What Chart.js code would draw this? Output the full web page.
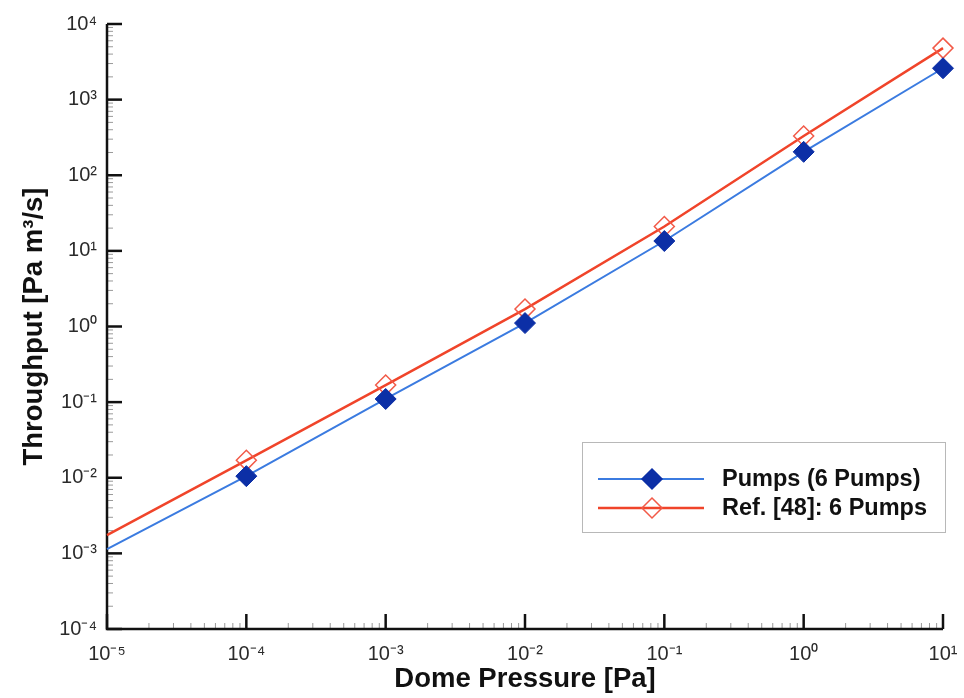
<!DOCTYPE html>
<html>
<head>
<meta charset="utf-8">
<script src="https://cdn.jsdelivr.net/npm/chart.js@4.4.1/dist/chart.umd.min.js"></script>
<style>
  html, body { margin: 0; padding: 0; background: #ffffff; }
  #wrap { position: relative; width: 964px; height: 698px; }
</style>
</head>
<body>
<div id="wrap"><canvas id="c" width="964" height="698"></canvas></div>
<script>
// ---- data ----
const domePressure = [1e-5, 1e-4, 1e-3, 1e-2, 1e-1, 1, 10];
const pumpsThroughput = [1.14e-3, 0.0105, 0.11, 1.11, 13.5, 204, 2600];
const ref48Throughput = [1.74e-3, 0.017, 0.168, 1.7, 21, 330, 4800];
const markerShown = [false, true, true, true, true, true, true];
const seriesNames = ['Pumps (6 Pumps)', 'Ref. [48]: 6 Pumps'];
const xTitle = 'Dome Pressure [Pa]';
const yTitle = 'Throughput [Pa m\u00B3/s]';

const SUP = {'-':'\u207B','0':'\u2070','1':'\u00B9','2':'\u00B2','3':'\u00B3','4':'\u2074','5':'\u2075','6':'\u2076','7':'\u2077','8':'\u2078','9':'\u2079'};
function powLabel(v) {
  const e = Math.log10(v);
  const r = Math.round(e);
  if (Math.abs(e - r) > 1e-6) return '';
  return '10' + String(r).split('').map(ch => SUP[ch]).join('');
}

const BLUE_LINE = '#3b7be0';
const BLUE_MARK = '#0c2fa6';
const RED_LINE = '#f0442a';
const RED_MARK = '#f25a48';

function pts(ys) { return domePressure.map((x, i) => ({x: x, y: ys[i]})); }

const axesPlugin = {
  id: 'inwardAxes',
  beforeDatasetsDraw(chart) {
    const {ctx, chartArea: a, scales: {x, y}} = chart;
    ctx.save();
    for (let e = -5; e <= 1; e++) {
      for (let k = 1; k <= 9; k++) {
        const v = k * Math.pow(10, e);
        if (v > 10 * 1.0001) break;
        const px = x.getPixelForValue(v);
        ctx.beginPath();
        if (k === 1) { ctx.strokeStyle = '#111'; ctx.lineWidth = 2.5; ctx.moveTo(px, a.bottom); ctx.lineTo(px, a.bottom - 15); }
        else { ctx.strokeStyle = '#9a9a9a'; ctx.lineWidth = 1; ctx.moveTo(px, a.bottom); ctx.lineTo(px, a.bottom - 6); }
        ctx.stroke();
      }
    }
    for (let e = -4; e <= 4; e++) {
      for (let k = 1; k <= 9; k++) {
        const v = k * Math.pow(10, e);
        if (v > 1e4 * 1.0001) break;
        const py = y.getPixelForValue(v);
        ctx.beginPath();
        if (k === 1) { ctx.strokeStyle = '#111'; ctx.lineWidth = 2.5; ctx.moveTo(a.left, py); ctx.lineTo(a.left + 15, py); }
        else { ctx.strokeStyle = '#9a9a9a'; ctx.lineWidth = 1; ctx.moveTo(a.left, py); ctx.lineTo(a.left + 6, py); }
        ctx.stroke();
      }
    }
    ctx.strokeStyle = '#111';
    ctx.lineWidth = 2.5;
    ctx.beginPath();
    ctx.moveTo(a.left, a.top);
    ctx.lineTo(a.left, a.bottom);
    ctx.lineTo(a.right, a.bottom);
    ctx.stroke();
    ctx.restore();
  },
  afterDatasetsDraw(chart) {
    const ctx = chart.ctx;
    ctx.save();
    const bx = 582, by = 442, bw = 363, bh = 90;
    ctx.fillStyle = '#ffffff';
    ctx.fillRect(bx, by, bw, bh);
    ctx.strokeStyle = '#b8b8b8';
    ctx.lineWidth = 1;
    ctx.strokeRect(bx + 0.5, by + 0.5, bw, bh);
    const rows = [
      {y: 479, line: BLUE_LINE, lw: 2, fill: BLUE_MARK, stroke: BLUE_MARK},
      {y: 508, line: RED_LINE, lw: 2.5, fill: null, stroke: RED_MARK}
    ];
    rows.forEach((r, i) => {
      ctx.strokeStyle = r.line; ctx.lineWidth = r.lw;
      ctx.beginPath(); ctx.moveTo(598, r.y); ctx.lineTo(704, r.y); ctx.stroke();
      const cx = 652, rad = 10;
      ctx.beginPath();
      ctx.moveTo(cx, r.y - rad); ctx.lineTo(cx + rad, r.y); ctx.lineTo(cx, r.y + rad); ctx.lineTo(cx - rad, r.y); ctx.closePath();
      if (r.fill) { ctx.fillStyle = r.fill; ctx.fill(); }
      ctx.strokeStyle = r.stroke; ctx.lineWidth = 1.5; ctx.stroke();
      ctx.fillStyle = '#111';
      ctx.font = 'bold 23.5px "Liberation Sans", Arial, sans-serif';
      ctx.textBaseline = 'middle';
      ctx.textAlign = 'left';
      ctx.fillText(seriesNames[i], 722, r.y + 1);
    });
    ctx.restore();
  }
};

const tickFont = {family: '"Liberation Sans", Arial, sans-serif', size: 20};
const titleFont = {family: '"Liberation Sans", Arial, sans-serif', size: 27.5, weight: 'bold'};

new Chart(document.getElementById('c'), {
  type: 'scatter',
  data: {
    datasets: [
      {
        label: seriesNames[0],
        data: pts(pumpsThroughput),
        showLine: true,
        clip: false,
        borderColor: BLUE_LINE,
        borderWidth: 2,
        pointStyle: 'rectRot',
        pointRadius: markerShown.map(s => s ? 10.5 : 0),
        pointBackgroundColor: BLUE_MARK,
        pointBorderColor: BLUE_MARK,
        pointBorderWidth: 1,
        tension: 0
      },
      {
        label: seriesNames[1],
        data: pts(ref48Throughput),
        showLine: true,
        clip: false,
        borderColor: RED_LINE,
        borderWidth: 2.5,
        pointStyle: 'rectRot',
        pointRadius: markerShown.map(s => s ? 10 : 0),
        pointBackgroundColor: 'rgba(255,255,255,0)',
        pointBorderColor: RED_MARK,
        pointBorderWidth: 1.5,
        tension: 0
      }
    ]
  },
  options: {
    responsive: false,
    animation: false,
    events: [],
    layout: {padding: {left: 0, right: 21, top: 24, bottom: 0}},
    plugins: {legend: {display: false}, tooltip: {enabled: false}},
    scales: {
      x: {
        type: 'logarithmic',
        min: 1e-5, max: 10,
        grid: {display: false, drawTicks: false},
        border: {display: false},
        ticks: {
          autoSkip: false, maxRotation: 0, minRotation: 0,
          font: tickFont, color: '#2a2a2a', padding: 13,
          callback: (v) => powLabel(v)
        },
        title: {display: true, text: xTitle, font: titleFont, color: '#111', padding: {top: 0, bottom: 2}},
        afterFit: (s) => { s.height = 69; s.paddingLeft = 0; s.paddingRight = 0; }
      },
      y: {
        type: 'logarithmic',
        min: 1e-4, max: 1e4,
        grid: {display: false, drawTicks: false},
        border: {display: false},
        ticks: {
          autoSkip: false,
          font: tickFont, color: '#2a2a2a', padding: 10,
          callback: (v) => powLabel(v)
        },
        title: {display: true, text: yTitle, font: titleFont, color: '#111', padding: {top: 18, bottom: 0}},
        afterFit: (s) => { s.width = 107; s.paddingTop = 0; s.paddingBottom = 0; }
      }
    }
  },
  plugins: [axesPlugin]
});
</script>
</body>
</html>
